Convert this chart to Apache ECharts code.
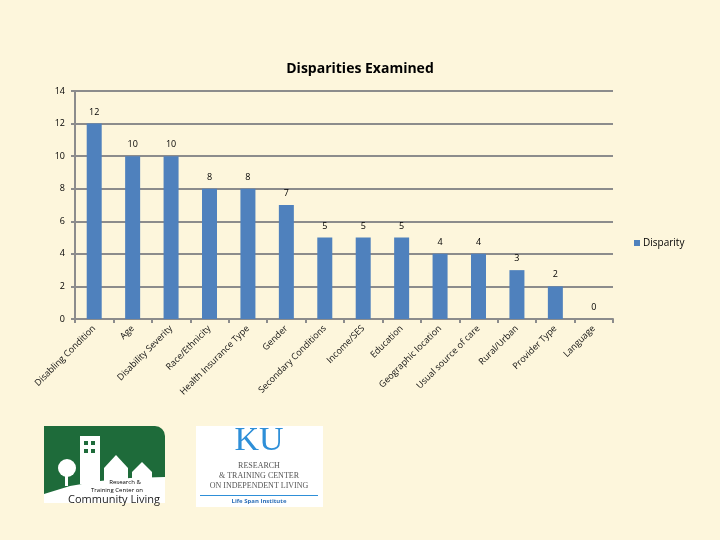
<!DOCTYPE html>
<html><head><meta charset="utf-8">
<script src="https://cdn.jsdelivr.net/npm/echarts@6/dist/echarts.min.js"></script>
<style>html,body{margin:0;padding:0;background:#FDF6DC;}#c{width:720px;height:540px;}</style>
</head><body><div id="c"></div>
<script>
const categories = ['Disabling Condition','Age','Disability Severity','Race/Ethnicity','Health Insurance Type','Gender','Secondary Conditions','Income/SES','Education','Geographic location','Usual source of care','Rural/Urban','Provider Type','Language'];
const disparity = [12,10,10,8,8,7,5,5,5,4,4,3,2,0];
const yTicks = {min:0, max:14, interval:2};

const chart = echarts.init(document.getElementById('c'));
const font = '"Open Sans", "Liberation Sans", sans-serif';
chart.setOption({
  backgroundColor:'#FDF6DC',
  animation:false,
  title:{text:'Disparities Examined', left:'center', top:57, textStyle:{fontFamily:font, fontSize:14, fontWeight:'bold', color:'#000'}},
  legend:{data:['Disparity'], left:629, top:233, orient:'vertical', itemWidth:6, itemHeight:6, itemGap:4, icon:'rect',
    textStyle:{fontFamily:font, fontSize:10, color:'#000', padding:[0,0,0,-2]}},
  grid:{left:75, right:107, top:91, bottom:221, containLabel:false},
  xAxis:{type:'category', data:categories,
    axisLine:{lineStyle:{color:'#8c8c8c', width:2}},
    axisTick:{show:true, alignWithLabel:false, length:4, lineStyle:{color:'#8c8c8c', width:2}},
    axisLabel:{rotate:45, interval:0, fontFamily:font, fontSize:9, color:'#111', margin:8}},
  yAxis:{type:'value', min:yTicks.min, max:yTicks.max, interval:yTicks.interval,
    axisLine:{show:true, lineStyle:{color:'#8c8c8c', width:2}},
    axisTick:{show:true, length:4, lineStyle:{color:'#8c8c8c', width:2}},
    splitLine:{lineStyle:{color:'#8c8c8c', width:2}},
    axisLabel:{fontFamily:font, fontSize:9, color:'#000', margin:10}},
  series:[{name:'Disparity', type:'bar', data:disparity, barWidth:15,
    itemStyle:{color:'#4F81BD'},
    label:{show:true, position:'top', distance:7, fontFamily:font, fontSize:9, color:'#000'}}],
  graphic:[
    {type:'rect', shape:{x:44,y:426,width:121,height:77,r:[0,10,0,0]}, style:{fill:'#1E6B3A'}},
    {type:'rect', shape:{x:80,y:436,width:20,height:48}, style:{fill:'#fff'}},
    {type:'rect', shape:{x:84,y:441,width:4,height:4}, style:{fill:'#1E6B3A'}},
    {type:'rect', shape:{x:91,y:441,width:4,height:4}, style:{fill:'#1E6B3A'}},
    {type:'rect', shape:{x:84,y:449,width:4,height:4}, style:{fill:'#1E6B3A'}},
    {type:'rect', shape:{x:91,y:449,width:4,height:4}, style:{fill:'#1E6B3A'}},
    {type:'polygon', shape:{points:[[104,468],[116,455],[128,468],[128,482],[104,482]]}, style:{fill:'#fff'}},
    {type:'polygon', shape:{points:[[132,472],[142,462],[152,472],[152,480],[132,480]]}, style:{fill:'#fff'}},
    {type:'circle', shape:{cx:67,cy:468,r:9}, style:{fill:'#fff'}},
    {type:'rect', shape:{x:65,y:470,width:3,height:16}, style:{fill:'#fff'}},
    {type:'polygon', shape:{points:[[44,503],[44,494],[70,486],[100,481],[130,478],[165,477],[165,503]]}, style:{fill:'#fff'}},
    {type:'text', style:{x:125,y:479,text:'Research &', fontSize:6, fontFamily:font, fill:'#000', align:'center'}},
    {type:'text', style:{x:117,y:487,text:'Training Center on', fontSize:6, fontFamily:font, fill:'#000', align:'center'}},
    {type:'text', style:{x:114,y:494,text:'Community Living', fontSize:11, fontFamily:font, fill:'#222', align:'center'}},
    {type:'rect', shape:{x:196,y:426,width:127,height:81}, style:{fill:'#fff'}},
    {type:'text', style:{x:259,y:424,text:'KU', fontSize:34, fontFamily:'"Liberation Serif", serif', fill:'#2E8FD8', align:'center'}},
    {type:'text', style:{x:259,y:461,text:'RESEARCH\n& TRAINING CENTER\nON INDEPENDENT LIVING', fontSize:8, lineHeight:10, fontFamily:'"Liberation Serif", serif', fill:'#555', align:'center'}},
    {type:'rect', shape:{x:200,y:495,width:118,height:1}, style:{fill:'#2E8FD8'}},
    {type:'text', style:{x:259,y:498,text:'Life Span Institute', fontSize:6, fontFamily:font, fill:'#2E6FB8', align:'center', fontWeight:'bold'}}
  ]
});
</script></body></html>
